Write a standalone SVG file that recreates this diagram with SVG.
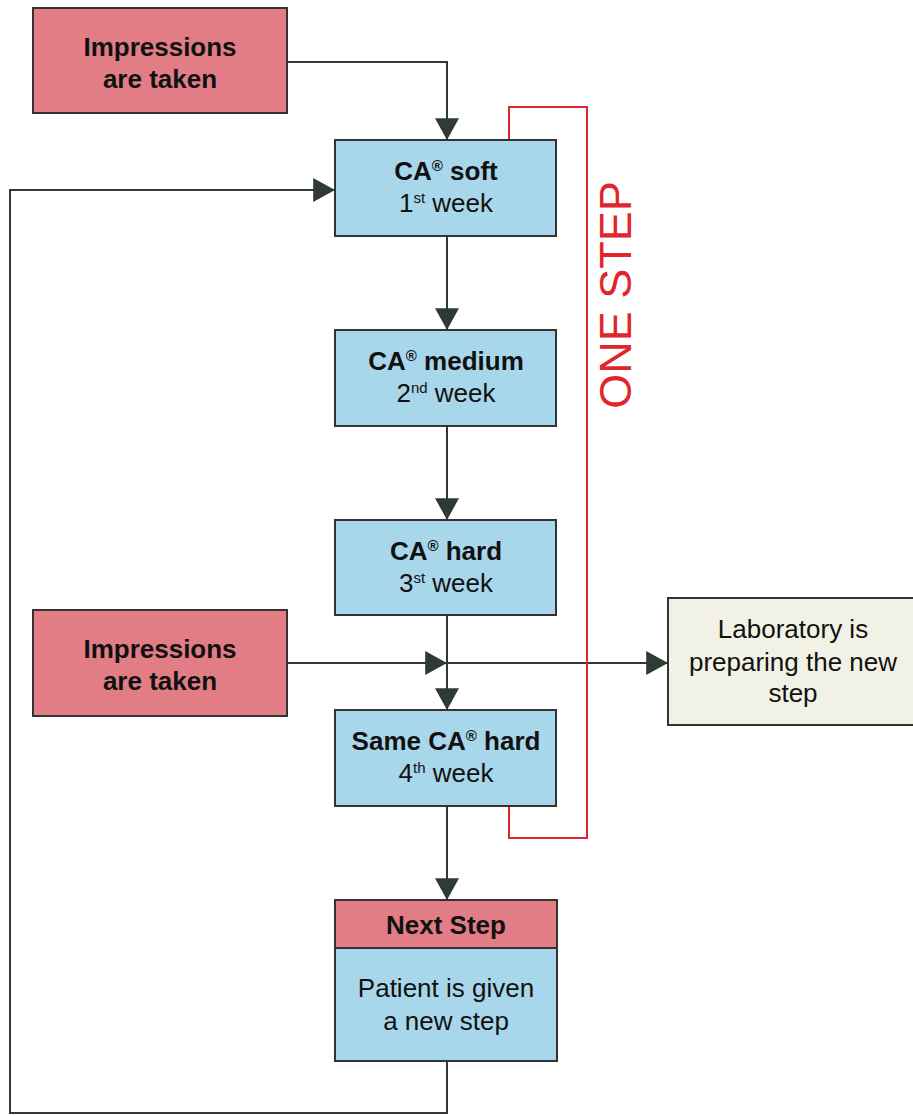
<svg xmlns="http://www.w3.org/2000/svg" width="913" height="1116" viewBox="0 0 913 1116">
<style>
.pink{fill:#e27d86;stroke:#333;stroke-width:2}
.blue{fill:#a8d6ea;stroke:#333;stroke-width:2}
.lab{fill:#f2f1e5;stroke:#333;stroke-width:2}
.b{font-family:"Liberation Sans",Arial,sans-serif;font-weight:bold;font-size:26px;fill:#111;text-anchor:middle}
.r{font-family:"Liberation Sans",Arial,sans-serif;font-size:26px;fill:#111;text-anchor:middle}
.sup{font-size:15px}
.ln{fill:none;stroke:#2f3a35;stroke-width:2}
.red{fill:none;stroke:#e0262a;stroke-width:2}
</style>
<defs>
<marker id="ah" markerUnits="userSpaceOnUse" markerWidth="24" markerHeight="24" viewBox="0 0 20 22" refX="20" refY="11" orient="auto">
<path d="M0,0 L20,11 L0,22 Z" fill="#2f3a35"/>
</marker>
</defs>
<rect width="913" height="1116" fill="#fff"/>
<g id="connectors">
<path class="ln" d="M287,62 H447 V140" marker-end="url(#ah)"/>
<path class="ln" d="M447,236 V330" marker-end="url(#ah)"/>
<path class="ln" d="M447,426 V520" marker-end="url(#ah)"/>
<path class="ln" d="M447,615 V710" marker-end="url(#ah)"/>
<path class="ln" d="M287,663 H447" marker-end="url(#ah)"/>
<path class="ln" d="M447,663 H668" marker-end="url(#ah)"/>
<path class="ln" d="M447,806 V900" marker-end="url(#ah)"/>
<path class="ln" d="M447,1061 V1113 H10 V190 H335" marker-end="url(#ah)"/>
</g>
<g id="one-step">
<path class="red" d="M509,140 V107 H587 V838 H509 V806"/>
<text transform="translate(631,295) rotate(-90)" font-family="Liberation Sans,Arial,sans-serif" font-size="45" fill="#e0262a" text-anchor="middle">ONE STEP</text>
</g>
<g id="impressions1">
<rect class="pink" x="33" y="8" width="254" height="105"/>
<text class="b" x="160" y="56">Impressions</text>
<text class="b" x="160" y="88">are taken</text>
</g>
<g id="ca-soft">
<rect class="blue" x="335" y="140" width="221" height="96"/>
<text class="b" x="446" y="180">CA<tspan class="sup" dy="-9">®</tspan><tspan dy="9"> soft</tspan></text>
<text class="r" x="446" y="212">1<tspan class="sup" dy="-9">st</tspan><tspan dy="9"> week</tspan></text>
</g>
<g id="ca-medium">
<rect class="blue" x="335" y="330" width="221" height="96"/>
<text class="b" x="446" y="370">CA<tspan class="sup" dy="-9">®</tspan><tspan dy="9"> medium</tspan></text>
<text class="r" x="446" y="402">2<tspan class="sup" dy="-9">nd</tspan><tspan dy="9"> week</tspan></text>
</g>
<g id="ca-hard">
<rect class="blue" x="335" y="520" width="221" height="95"/>
<text class="b" x="446" y="560">CA<tspan class="sup" dy="-9">®</tspan><tspan dy="9"> hard</tspan></text>
<text class="r" x="446" y="592">3<tspan class="sup" dy="-9">st</tspan><tspan dy="9"> week</tspan></text>
</g>
<g id="impressions2">
<rect class="pink" x="33" y="610" width="254" height="106"/>
<text class="b" x="160" y="658">Impressions</text>
<text class="b" x="160" y="690">are taken</text>
</g>
<g id="laboratory">
<rect class="lab" x="668" y="598" width="250" height="127"/>
<text class="r" x="793" y="638">Laboratory is</text>
<text class="r" x="793" y="671">preparing the new</text>
<text class="r" x="793" y="702">step</text>
</g>
<g id="same-ca-hard">
<rect class="blue" x="335" y="710" width="221" height="96"/>
<text class="b" x="446" y="750">Same CA<tspan class="sup" dy="-9">®</tspan><tspan dy="9"> hard</tspan></text>
<text class="r" x="446" y="782">4<tspan class="sup" dy="-9">th</tspan><tspan dy="9"> week</tspan></text>
</g>
<g id="next-step">
<rect class="blue" x="335" y="900" width="222" height="161"/>
<rect class="pink" x="335" y="900" width="222" height="48"/>
<text class="b" x="446" y="934">Next Step</text>
<text class="r" x="446" y="997">Patient is given</text>
<text class="r" x="446" y="1030">a new step</text>
</g>
</svg>
